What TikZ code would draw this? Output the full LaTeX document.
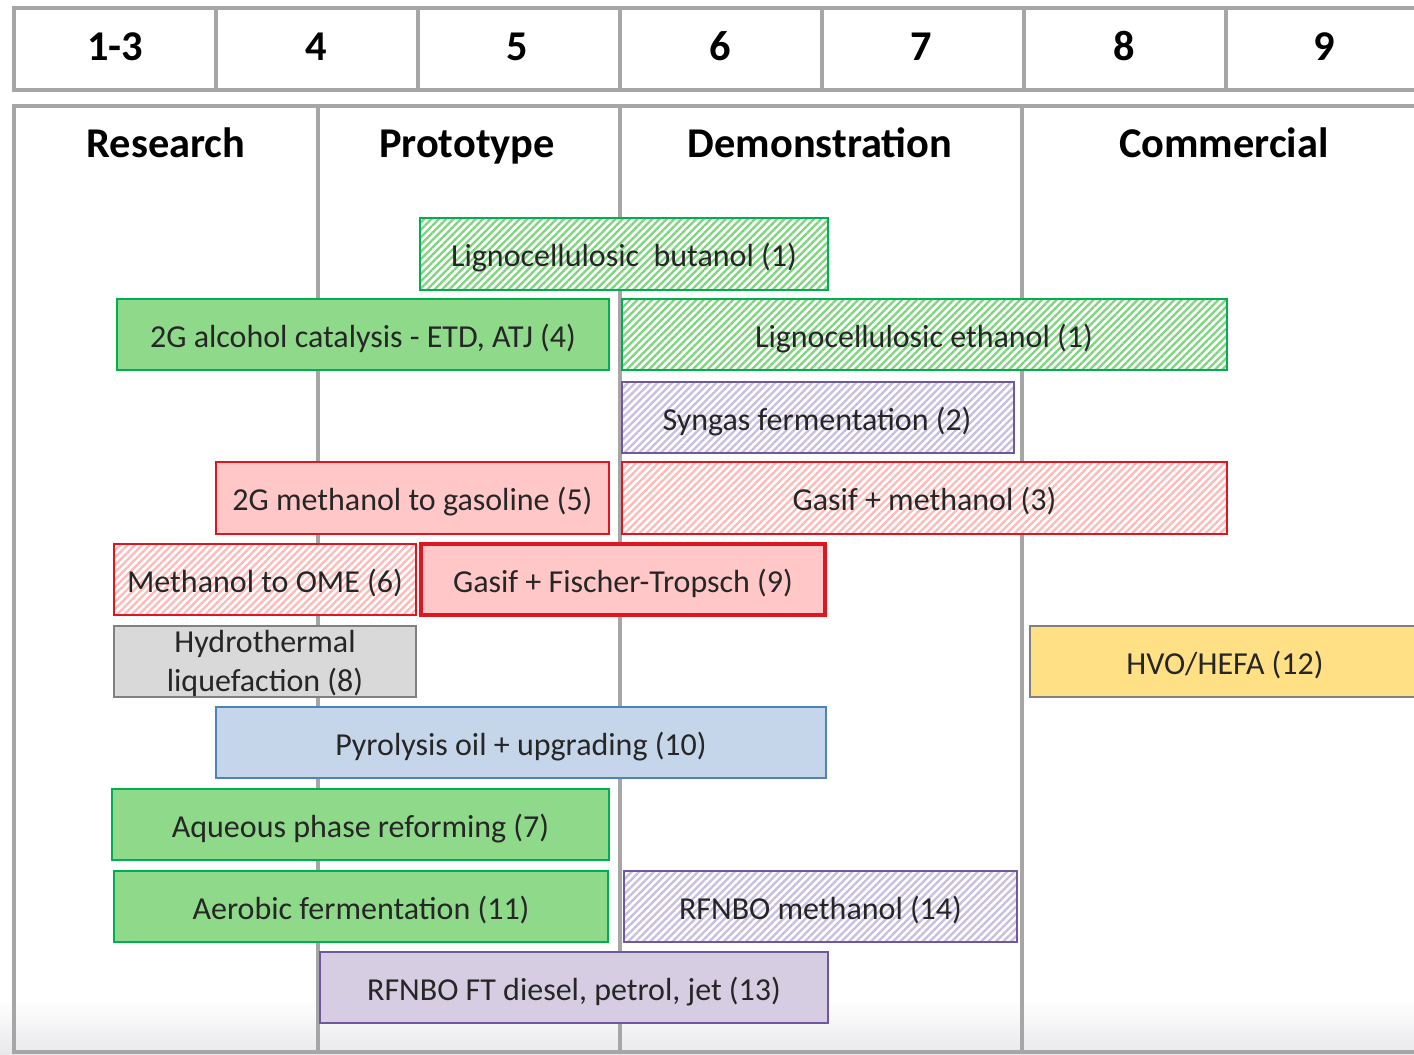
\documentclass[tikz,border=0pt]{standalone}
\usepackage{fontspec}
\setmainfont{Carlito}
\usetikzlibrary{patterns.meta}

\definecolor{grille}{RGB}{166,166,166}
\definecolor{texte}{RGB}{38,38,38}
\definecolor{vertbord}{RGB}{0,176,80}
\definecolor{vertfond}{RGB}{143,217,138}
\definecolor{verthach}{RGB}{125,214,125}
\definecolor{rougebord}{RGB}{222,22,32}
\definecolor{rosefond}{RGB}{255,199,199}
\definecolor{rosehach}{RGB}{255,185,185}
\definecolor{violetbord}{RGB}{112,88,160}
\definecolor{violetfond}{RGB}{214,205,226}
\definecolor{violethach}{RGB}{200,190,225}
\definecolor{grisbord}{RGB}{128,128,128}
\definecolor{grisfond}{RGB}{217,217,217}
\definecolor{jaunefond}{RGB}{255,224,132}
\definecolor{bleubord}{RGB}{79,129,189}
\definecolor{bleufond}{RGB}{197,213,234}
\definecolor{fondbas}{RGB}{232,232,236}

\tikzset{
  hachure/.style={preaction={fill=white},
    pattern={Lines[angle=45,distance=2.6pt,line width=1.15pt]}, pattern color=#1},
  vertplein/.style={draw=vertbord, fill=vertfond, line width=1.3pt},
  verthach/.style={draw=vertbord, line width=1.3pt, hachure=verthach},
  roseplein/.style={draw=rougebord, fill=rosefond, line width=1.1pt},
  rosehach/.style={draw=rougebord, line width=1.1pt, hachure=rosehach},
  violetplein/.style={draw=violetbord, fill=violetfond, line width=1.1pt},
  violethach/.style={draw=violetbord, line width=1.3pt, hachure=violethach},
  texte/.style={text=texte, font=\fontsize{16}{19.5}\selectfont, inner sep=0pt, anchor=base},
  entete/.style={text=black, font=\bfseries\fontsize{21.2}{24}\selectfont, anchor=base},
}

\begin{document}
\begin{tikzpicture}[x=0.5pt,y=-0.5pt]
  \useasboundingbox (0,0) rectangle (1414,1055);
  \clip (0,0) rectangle (1414,1055);
  % léger dégradé en bas
  \shade[top color=white, bottom color=fondbas] (0,1000) rectangle (1414,1055);

  % Échelle TRL
  \draw[grille, line width=1.6pt] (14,8) rectangle (1440,90);
  \foreach \x in {216,418,620,822,1024,1226}
    \draw[grille, line width=1.6pt] (\x,8) -- (\x,90);
  \foreach \x/\t [count=\i] in {115/1-3,316/4,517/5,720/6,921/7,1124/8,1324/9}
    \node[entete] (trl\i) at (\x,60) {\t};

  % Stades de développement
  \draw[grille, line width=1.6pt] (1440,106) -- (14,106) -- (14,1052) -- (1440,1052);
  \foreach \x in {318,620,1022}
    \draw[grille, line width=1.6pt] (\x,106) -- (\x,1052);
  \node[entete] (recherche) at (166,157) {Research};
  \node[entete] (prototype) at (467,157) {Prototype};
  \node[entete] (demo) at (820,157) {Demonstration};
  \node[entete] (commercial) at (1224,157) {Commercial};

  % Filières
  \draw[verthach] (420,218) rectangle (828,290);
  \node[texte] (butanol) at (624,266) {Lignocellulosic\ \ butanol (1)};

  \draw[vertplein] (117,299) rectangle (609,370);
  \node[texte] (alcool) at (363,347) {2G alcohol catalysis - ETD, ATJ (4)};

  \draw[verthach] (622,299) rectangle (1227,370);
  \node[texte] (ethanol) at (924,347) {Lignocellulosic ethanol (1)};

  \draw[violethach] (622,382) rectangle (1014,453);
  \node[texte] (syngas) at (817,430) {Syngas fermentation (2)};

  \draw[roseplein] (216,462) rectangle (609,534);
  \node[texte] (mtg) at (412.5,510) {2G methanol to gasoline (5)};

  \draw[rosehach] (622,462) rectangle (1227,534);
  \node[texte] (gasifmeoh) at (924.5,510) {Gasif + methanol (3)};

  \draw[rosehach] (114,544) rectangle (416,615);
  \node[texte] (ome) at (265,592) {Methanol to OME (6)};

  \draw[roseplein, line width=1.6pt] (421,544) rectangle (825,615);
  \node[texte] (gasifft) at (623,592) {Gasif + Fischer-Tropsch (9)};

  \draw[draw=grisbord, fill=grisfond, line width=1.1pt] (114,626) rectangle (416,697);
  \node[texte, anchor=center, align=center] (htl) at (265,663) {Hydrothermal\\liquefaction (8)};

  \draw[draw=grisbord, fill=jaunefond, line width=1.1pt] (1030,626) rectangle (1420,697);
  \node[texte] (hvo) at (1225,674) {HVO/HEFA (12)};

  \draw[draw=bleubord, fill=bleufond, line width=1.1pt] (216,707) rectangle (826,778);
  \node[texte] (pyro) at (521,755) {Pyrolysis oil + upgrading (10)};

  \draw[vertplein] (112,789) rectangle (609,860);
  \node[texte] (apr) at (360.5,837) {Aqueous phase reforming (7)};

  \draw[vertplein] (114,871) rectangle (608,942);
  \node[texte] (aerobie) at (361,919) {Aerobic fermentation (11)};

  \draw[violethach] (624,871) rectangle (1017,942);
  \node[texte] (rfnbomeoh) at (820.5,919) {RFNBO methanol (14)};

  \draw[violetplein] (320,952) rectangle (828,1023);
  \node[texte] (rfnboft) at (574,1000) {RFNBO FT diesel, petrol, jet (13)};
\end{tikzpicture}
\end{document}
